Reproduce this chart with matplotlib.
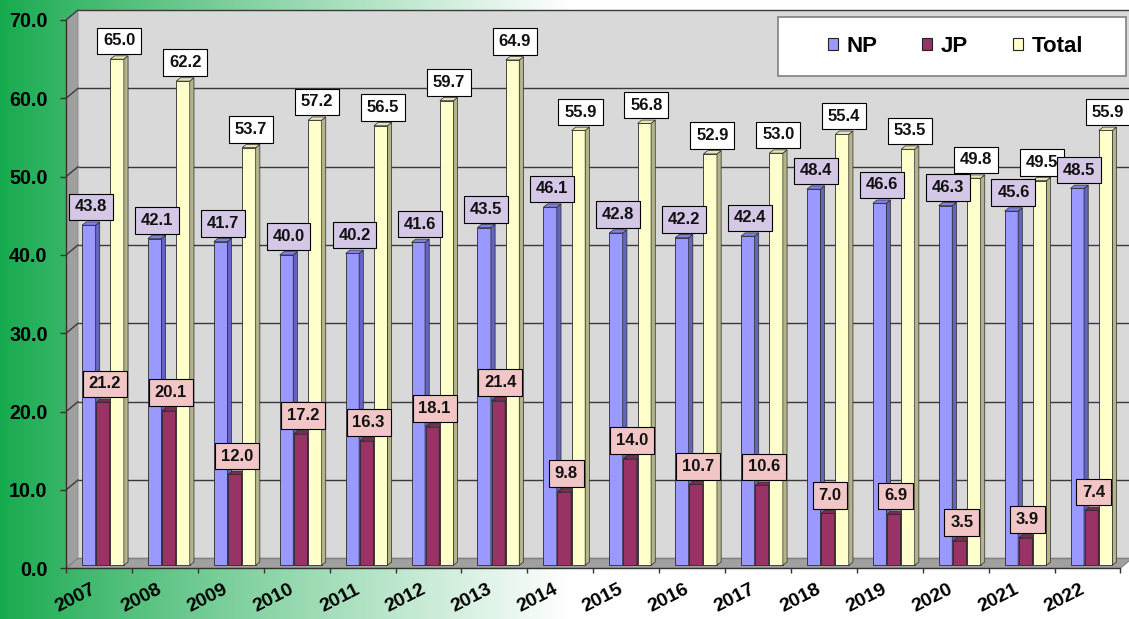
import numpy as np
import matplotlib
matplotlib.use('Agg')
import matplotlib.pyplot as plt
from matplotlib.patches import Polygon, Rectangle, Patch

# ---------------- data ----------------
years = [str(y) for y in range(2007, 2023)]
np_vals = [43.8, 42.1, 41.7, 40.0, 40.2, 41.6, 43.5, 46.1, 42.8, 42.2, 42.4, 48.4, 46.6, 46.3, 45.6, 48.5]
jp_vals = [21.2, 20.1, 12.0, 17.2, 16.3, 18.1, 21.4, 9.8, 14.0, 10.7, 10.6, 7.0, 6.9, 3.5, 3.9, 7.4]
total_vals = [65.0, 62.2, 53.7, 57.2, 56.5, 59.7, 64.9, 55.9, 56.8, 52.9, 53.0, 55.4, 53.5, 49.8, 49.5, 55.9]
series_names = ['NP', 'JP', 'Total']
y_ticks = [0, 10, 20, 30, 40, 50, 60, 70]

plt.rcParams['font.family'] = ['Liberation Sans', 'DejaVu Sans']

W, H = 1129, 619
fig = plt.figure(figsize=(W / 100, H / 100), dpi=100)

# ---------------- background gradient ----------------
bg = fig.add_axes([0, 0, 1, 1], zorder=-10)
xs = np.arange(W)
t = np.clip(xs / 570.0, 0, 1) ** 0.9
c0 = np.array([22, 170, 78]) / 255.0
grad = c0[None, :] * (1 - t[:, None]) + np.ones(3)[None, :] * t[:, None]
bg.imshow(grad[None, :, :], aspect='auto', extent=[0, 1, 0, 1])
bg.axis('off')

# ---------------- main axes geometry ----------------
px_per_x = 65.9
left_px, zero_px, top_px = 66, 568.3, 8
ppu = 7.833
ax = fig.add_axes([left_px / W, (H - zero_px) / H, (W - left_px) / W, (zero_px - top_px) / H])
xmin = -0.5
xmax = xmin + (W - left_px) / px_per_x
ymax = (zero_px - top_px) / ppu
ax.set_xlim(xmin, xmax)
ax.set_ylim(0, ymax)
ax.set_facecolor('none')

n = len(years)
xend = n - 0.5
DX = 12 / px_per_x
DY = 10 / ppu
ytop = y_ticks[-1]

# walls
ax.add_patch(Rectangle((xmin + DX, DY), xmax + 1 - xmin, ytop, fc='#d9d9d9', ec='none', zorder=0))
ax.add_patch(Polygon([(xmin, 0), (xmin, ytop), (xmin + DX, ytop + DY), (xmin + DX, DY)],
                     closed=True, fc='#9f9f9f', ec='#8a8a8a', lw=0.6, zorder=0.5))
ax.add_patch(Polygon([(xmin, 0), (xend, 0), (xend + DX, DY), (xmin + DX, DY)],
                     closed=True, fc='#a0a0a0', ec='#7a7a7a', lw=0.6, zorder=0.5))

# gridlines on back and side walls
for v in y_ticks:
    col = '#3a3a3a' if v > 0 else '#808080'
    ax.plot([xmin + DX, xmax + 1], [v + DY, v + DY], color=col, lw=1.0, zorder=1, solid_capstyle='butt')
    if v > 0:
        ax.plot([xmin, xmin + DX], [v, v + DY], color=col, lw=1.0, zorder=1)

# ---------------- bars ----------------
front_cols = ['#9999ff', '#993366', '#ffffcc']
side_cols = ['#6464bf', '#6a2346', '#b4b48c']
topf_cols = ['#8080e6', '#7d2952', '#e6e6b4']
label_fc = ['#d4c8e6', '#f2c6c6', '#ffffff']
left_off = [-0.257, -0.042, 0.173]
bw = 0.205
BASE = 3 / ppu
bdx = 4.2 / px_per_x
bdy = 3.3 / ppu
series = [np_vals, jp_vals, total_vals]
xcat = np.arange(n)

zc = 2
for i in range(n):
    for s in range(3):
        v = series[s][i]
        x0 = xcat[i] + left_off[s]
        x1 = x0 + bw
        ax.bar(x0, v - BASE, bottom=BASE, width=bw, align='edge', color=front_cols[s],
               edgecolor='#2a2a2a', linewidth=0.6, zorder=zc)
        ax.add_patch(Polygon([(x1, BASE), (x1, v), (x1 + bdx, v + bdy), (x1 + bdx, BASE + bdy)],
                             closed=True, fc=side_cols[s], ec='#2a2a2a', lw=0.5, zorder=zc))
        ax.add_patch(Polygon([(x0, v), (x1, v), (x1 + bdx, v + bdy), (x0 + bdx, v + bdy)],
                             closed=True, fc=topf_cols[s], ec='#2a2a2a', lw=0.5, zorder=zc))
        zc += 0.01

for i in range(n):
    for s in range(3):
        v = series[s][i]
        xc = xcat[i] + left_off[s] + bw / 2 + bdx / 2
        ax.annotate(f"{v:.1f}", xy=(xc, v + bdy), xytext=(0, 5.4), textcoords='offset points',
                    ha='center', va='bottom', fontsize=12, fontweight='bold', color='#111111',
                    bbox=dict(boxstyle='square,pad=0.35', fc=label_fc[s], ec='black', lw=0.8),
                    zorder=10)

# ---------------- axes styling ----------------
for sp in ['top', 'right']:
    ax.spines[sp].set_visible(False)
ax.spines['left'].set_bounds(0, ytop)
ax.spines['bottom'].set_bounds(xmin, xend)
for sp in ['left', 'bottom']:
    ax.spines[sp].set_color('#333333')
    ax.spines[sp].set_linewidth(1.0)
    ax.spines[sp].set_zorder(3)

ax.set_yticks(y_ticks)
ax.set_yticklabels([f"{v:.1f}" for v in y_ticks], fontsize=14.2, fontweight='bold')
ax.tick_params(axis='y', length=4.3, width=1, color='#333333', pad=9.0, direction='out')

ax.set_xticks(xcat)
ax.set_xticklabels(years, fontsize=14, fontweight='bold')
ax.set_xticks(np.arange(n + 1) - 0.5, minor=True)
ax.tick_params(axis='x', which='major', length=0, pad=9)
ax.tick_params(axis='x', which='minor', length=3.6, width=1, color='#333333', direction='out')
plt.setp(ax.get_xticklabels(), rotation=27, ha='right', va='top', rotation_mode='default')

# ---------------- legend ----------------
fig.patches.append(Rectangle((778 / W, 1 - 76 / H), 348 / W, 59 / H, transform=fig.transFigure,
                             fc='white', ec='#7f7f7f', lw=1.2, zorder=4))
handles = [Patch(facecolor=front_cols[s], edgecolor='#222222', linewidth=0.8) for s in range(3)]
leg = fig.legend(handles, series_names, loc='center', bbox_to_anchor=(955.5 / W, 1 - 46.5 / H), ncol=3,
                 frameon=False, prop={'size': 16, 'weight': 'bold'}, handlelength=0.45, handleheight=0.45,
                 handletextpad=0.4, columnspacing=2.0)
leg.set_zorder(5)

fig.savefig('out.png', dpi=100)
